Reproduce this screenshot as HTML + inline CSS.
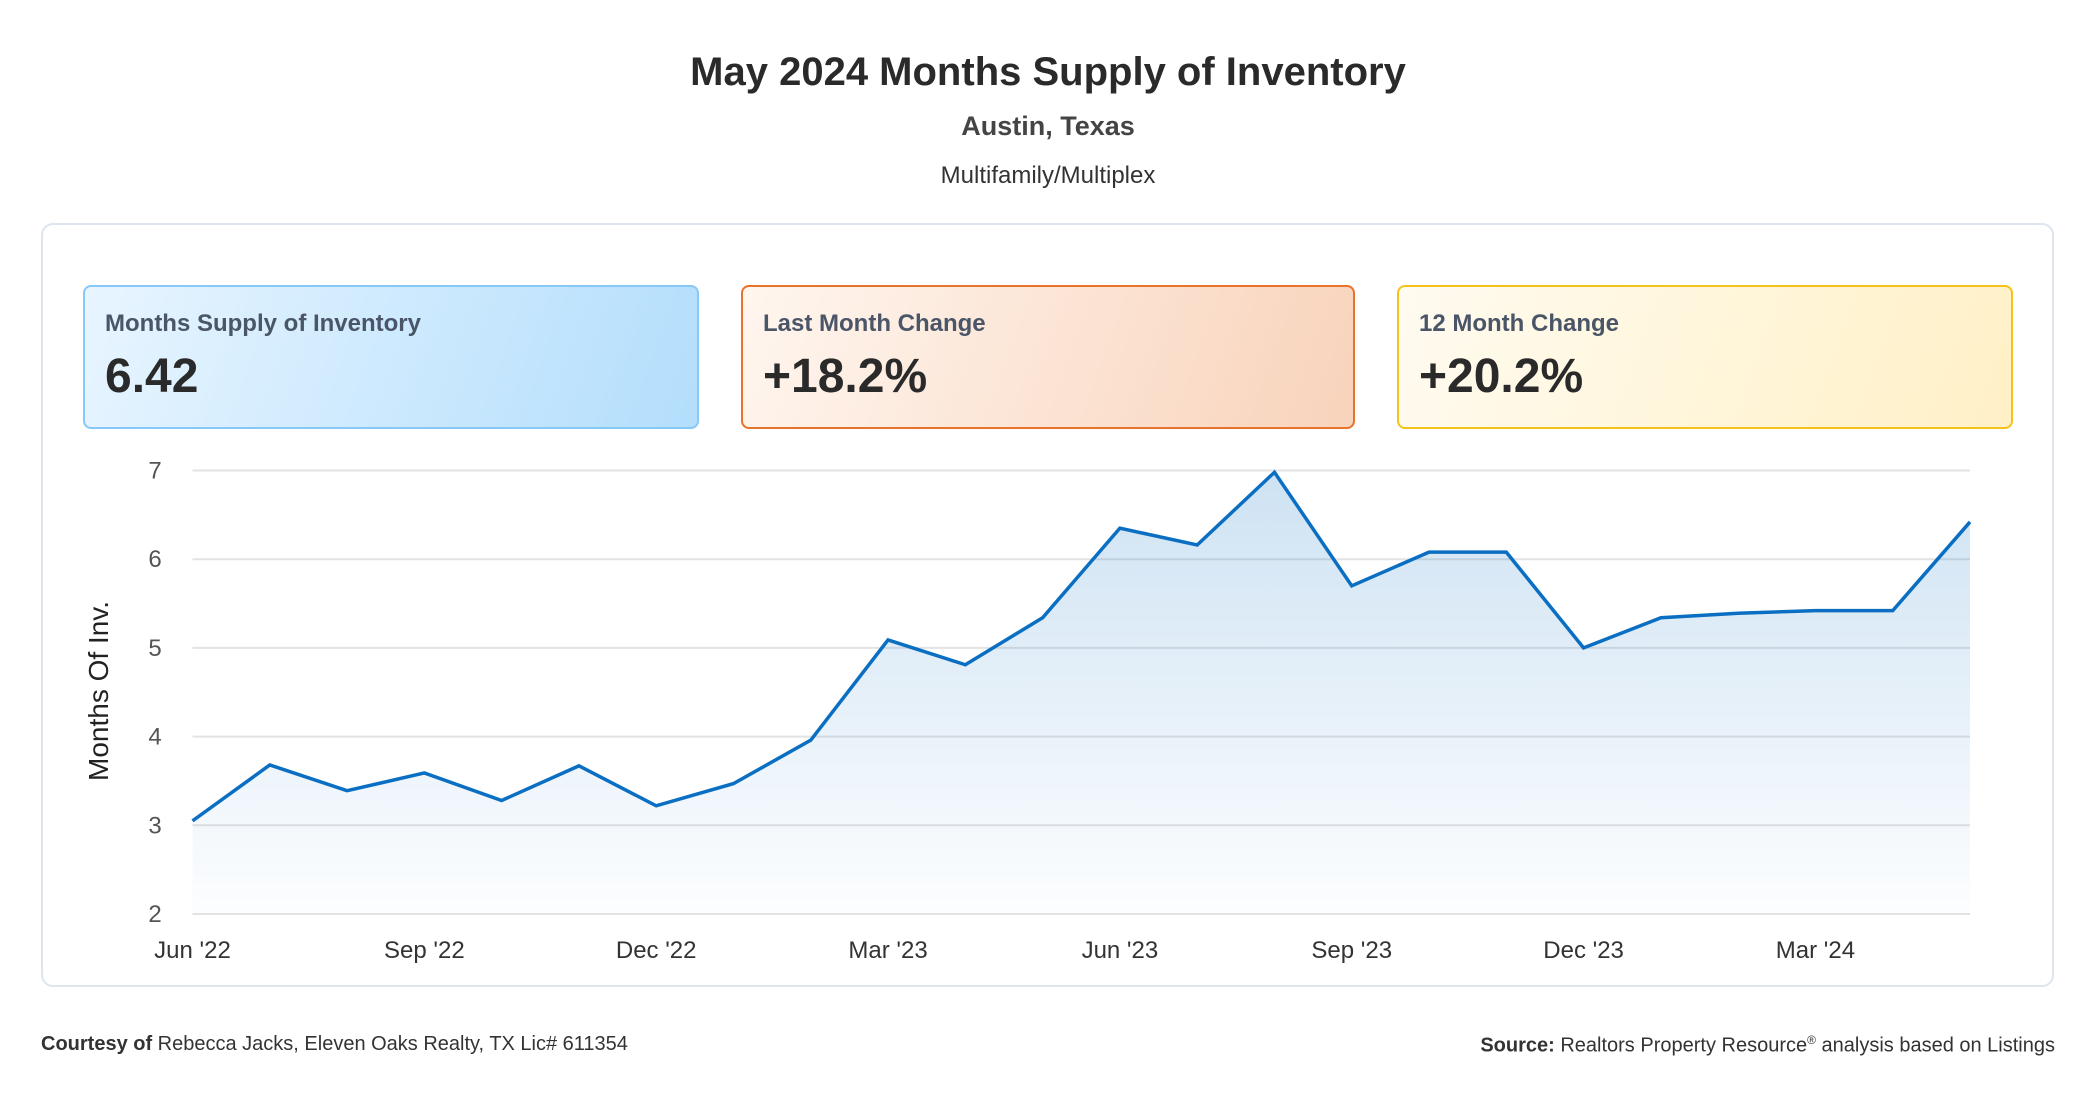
<!DOCTYPE html>
<html><head><meta charset="utf-8"><style>
body{margin:0;width:2096px;height:1100px;background:#fff;font-family:"Liberation Sans",sans-serif;position:relative;overflow:hidden}
.t{position:absolute;left:0;width:2096px;text-align:center}
.panel{position:absolute;left:41px;top:223px;width:2013px;height:764px;border:2px solid #dfe5ec;border-radius:12px;box-sizing:border-box}
.card{position:absolute;top:285px;height:144px;border:2px solid;border-radius:8px;box-sizing:border-box}
.lab{position:absolute;left:20px;top:23px;font-size:24px;font-weight:bold;color:#4a5568}
.val{position:absolute;left:20px;top:62px;font-size:48px;font-weight:bold;color:#2a2a2a}
.foot{position:absolute;top:1033px;font-size:20px;color:#333}
</style></head><body>
<div class="t" style="top:50px;font-size:40px;font-weight:bold;color:#2a2a2a">May 2024 Months Supply of Inventory</div>
<div class="t" style="top:111px;font-size:27px;font-weight:bold;color:#444">Austin, Texas</div>
<div class="t" style="top:162px;font-size:24px;color:#333">Multifamily/Multiplex</div>
<div class="panel"></div>
<div class="card" style="left:83px;width:616px;border-color:#86c8f7;background:linear-gradient(110deg,#e8f5ff,#b3defc)"><div class="lab">Months Supply of Inventory</div><div class="val">6.42</div></div>
<div class="card" style="left:741px;width:614px;border-color:#e8732c;background:linear-gradient(110deg,#fff6ef,#f8d3bb)"><div class="lab">Last Month Change</div><div class="val">+18.2%</div></div>
<div class="card" style="left:1397px;width:616px;border-color:#f5c21b;background:linear-gradient(110deg,#fffbf0,#fff0c6)"><div class="lab">12 Month Change</div><div class="val">+20.2%</div></div>
<svg id="chart" width="2096" height="1100" style="position:absolute;left:0;top:0">
<defs><linearGradient id="g" x1="0" y1="0" x2="0" y2="1"><stop offset="0" stop-color="#0a6fc2" stop-opacity="0.2"/><stop offset="1" stop-color="#0a6fc2" stop-opacity="0.01"/></linearGradient></defs>
<text transform="translate(108,691) rotate(-90)" text-anchor="middle" font-size="28" fill="#222" font-family="Liberation Sans">Months Of Inv.</text>
</svg>
<div class="foot" style="left:41px"><b>Courtesy of</b> Rebecca Jacks, Eleven Oaks Realty, TX Lic# 611354</div>
<div class="foot" style="right:41px"><b>Source:</b> Realtors Property Resource<sup style="font-size:12px">®</sup> analysis based on Listings</div>
<script>
const values=[3.05,3.68,3.39,3.59,3.28,3.67,3.22,3.47,3.96,5.09,4.81,5.34,6.35,6.16,6.98,5.70,6.08,6.08,5.00,5.34,5.39,5.42,5.42,6.42];
const yTicks=[2,3,4,5,6,7];
const xLabels=["Jun '22","Sep '22","Dec '22","Mar '23","Jun '23","Sep '23","Dec '23","Mar '24"];
const xLabelIdx=[0,3,6,9,12,15,18,21];
const svg=document.getElementById('chart');const NS='http://www.w3.org/2000/svg';
const X0=192.5,X1=1970,Y0=914,Y1=470.5;
const x=i=>X0+i*(X1-X0)/(values.length-1);
const y=v=>Y0+(v-2)*(Y1-Y0)/5;
function mk(t,a){const e=document.createElementNS(NS,t);for(const k in a)e.setAttribute(k,a[k]);svg.appendChild(e);return e;}
yTicks.forEach(v=>{
 const l=mk('line',{x1:X0,x2:X1,y1:y(v),y2:y(v),stroke:'#e3e3e3','stroke-width':2});
 
 
 const t=mk('text',{x:155,y:y(v)+8,'text-anchor':'middle','font-size':24,fill:'#555','font-family':'Liberation Sans'});
 t.textContent=v;
 
 
});
xLabels.forEach((s,k)=>{
 const t=mk('text',{x:x(xLabelIdx[k]),y:958,'text-anchor':'middle','font-size':24,fill:'#333','font-family':'Liberation Sans'});
 t.textContent=s;
 
 
});
let d=values.map((v,i)=>(i?'L':'M')+x(i)+','+y(v)).join('');
const a=mk('path',{d:d+'L'+x(values.length-1)+','+Y0+'L'+X0+','+Y0+'Z',fill:'url(#g)'});


const p=mk('path',{d:d,fill:'none',stroke:'#0a6fc2','stroke-width':3.5,'stroke-linejoin':'miter'});


</script>
</body></html>
